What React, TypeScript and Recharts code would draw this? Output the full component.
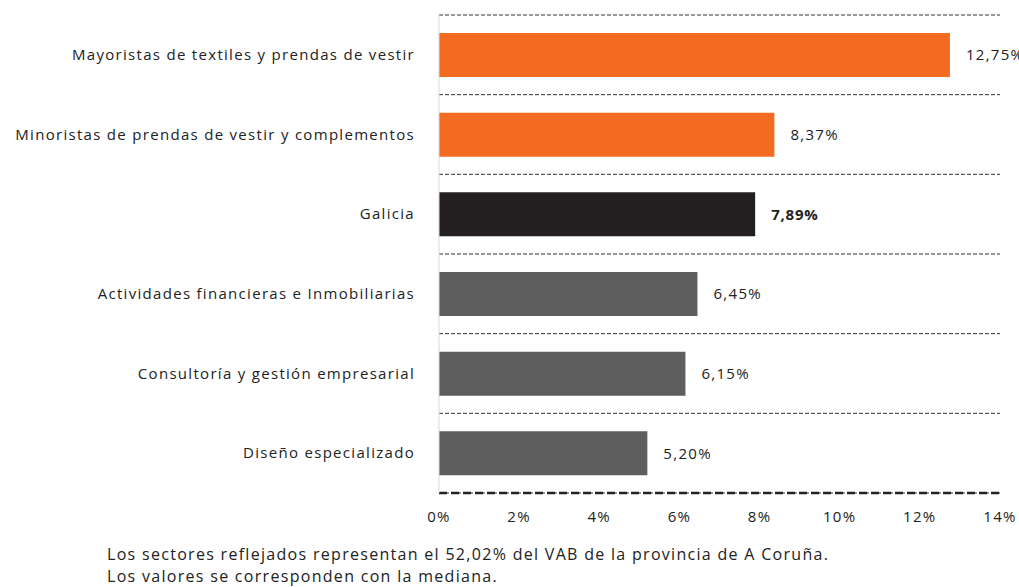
import React from "react";
import { BarChart, Bar, XAxis, YAxis, CartesianGrid, Cell, LabelList } from "recharts";

const categories = [
  "Mayoristas de textiles y prendas de vestir",
  "Minoristas de prendas de vestir y complementos",
  "Galicia",
  "Actividades financieras e Inmobiliarias",
  "Consultoría y gestión empresarial",
  "Diseño especializado",
];
const values = [12.75, 8.37, 7.89, 6.45, 6.15, 5.2];
const kinds = ["textil", "textil", "galicia", "otro", "otro", "otro"];
const xTicks = [0, 2, 4, 6, 8, 10, 12, 14];
const notes = [
  "Los sectores reflejados representan el 52,02% del VAB de la provincia de A Coruña.",
  "Los valores se corresponden con la mediana.",
];

const kindColor: Record<string, string> = {
  textil: "#F26B21",
  galicia: "#231F20",
  otro: "#5E5E5E",
};

const data = categories.map((name, i) => ({ name, value: values[i], kind: kinds[i] }));

const FONT = "'Open Sans', 'DejaVu Sans', sans-serif";
const TEXT = "#222222";
const LS = 1.3;

const fmt = (v: number) => v.toFixed(2).replace(".", ",") + "%";

const ValueLabel = (props: any) => {
  const { x, y, width, height, value, index } = props;
  const bold = kinds[index] === "galicia";
  return (
    <text
      x={x + width + 16}
      y={y + height / 2}
      dy="0.35em"
      fill={TEXT}
      fontSize={15}
      fontFamily={FONT}
      letterSpacing={bold ? 0.8 : LS}
      fontWeight={bold ? 700 : 400}
    >
      {fmt(value)}
    </text>
  );
};

export default function App() {
  return (
    <div style={{ position: "absolute", left: 0, top: 0, width: 1019, height: 587, background: "#fff", overflow: "hidden" }}>
      <BarChart
        width={1019}
        height={530}
        data={data}
        layout="vertical"
        margin={{ top: 15, right: 19, bottom: 7, left: 0 }}
        barSize={44}
      >
        <CartesianGrid
          horizontal={true}
          vertical={false}
          stroke="#333"
          strokeDasharray="4 2"
          horizontalCoordinatesGenerator={({ offset }: any) =>
            Array.from({ length: categories.length + 1 }, (_, i) => offset.top + (i * offset.height) / categories.length)
          }
        />
        <XAxis
          type="number"
          domain={[0, 14]}
          ticks={xTicks}
          tickFormatter={(v: number) => `${v}%`}
          tickLine={false}
          tickSize={0}
          tickMargin={18}
          height={30}
          axisLine={{ stroke: "#222", strokeWidth: 2.5, strokeDasharray: "8 4" }}
          tick={{ fill: TEXT, fontSize: 15, fontFamily: FONT, letterSpacing: LS }}
          interval={0}
        />
        <YAxis
          type="category"
          dataKey="name"
          width={439}
          tickLine={false}
          tickSize={0}
          tickMargin={24}
          axisLine={{ stroke: "#d9d9d9" }}
          tick={{ fill: TEXT, fontSize: 15, fontFamily: FONT, letterSpacing: LS }}
          interval={0}
        />
        <Bar dataKey="value" isAnimationActive={false}>
          {data.map((d, i) => (
            <Cell key={i} fill={kindColor[d.kind]} />
          ))}
          <LabelList dataKey="value" content={<ValueLabel />} />
        </Bar>
      </BarChart>
      <div
        style={{
          position: "absolute",
          left: 107,
          top: 543,
          fontFamily: FONT,
          fontSize: 16,
          letterSpacing: LS,
          color: TEXT,
          lineHeight: "22px",
          whiteSpace: "nowrap",
        }}
      >
        {notes.map((n, i) => (
          <div key={i}>{n}</div>
        ))}
      </div>
    </div>
  );
}
